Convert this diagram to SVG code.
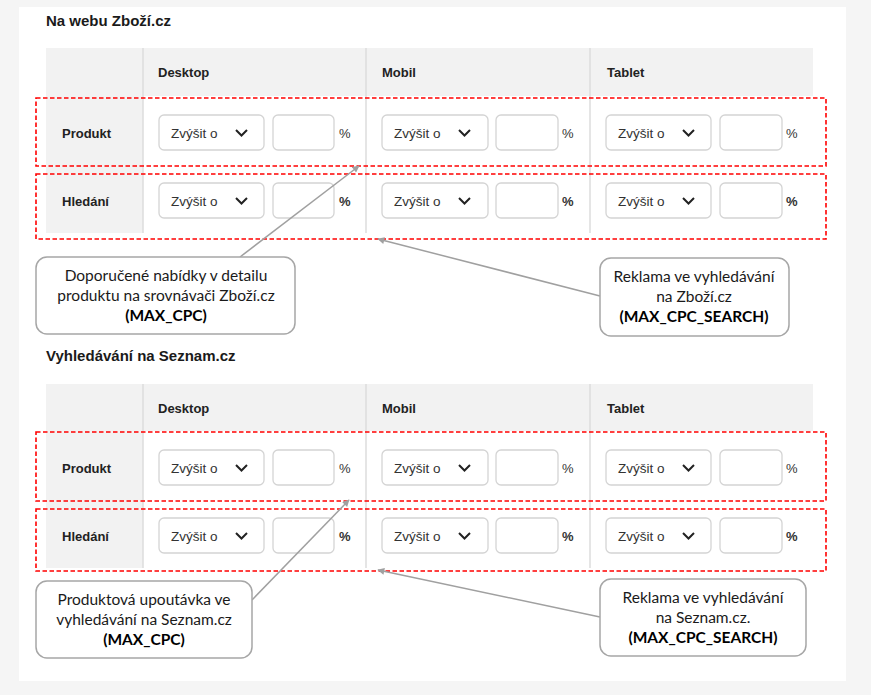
<svg xmlns="http://www.w3.org/2000/svg" width="871" height="695" viewBox="0 0 871 695">
<style>
.title{font-family:"Liberation Sans",Arial,sans-serif;font-size:15px;font-weight:bold;fill:#1a1a1a}
.hd{font-family:"Liberation Sans",Arial,sans-serif;font-size:13px;font-weight:bold;fill:#222}
.dd{fill:#fff;stroke:#d4d4d4;stroke-width:1.3}
.ddt{font-family:"Liberation Sans",Arial,sans-serif;font-size:13.5px;fill:#333}
.chev{fill:none;stroke:#222;stroke-width:2}
.pct{font-family:"Liberation Sans",Arial,sans-serif;font-size:13px;fill:#333}
.pctb{font-family:"Liberation Sans",Arial,sans-serif;font-size:13px;font-weight:bold;fill:#333}
.band{fill:#f2f2f2}
.div{stroke:#dcdcdc;stroke-width:1.5}
.hl{fill:none;stroke:#ff0000;stroke-width:1.6;stroke-dasharray:4.5 2.5}
.co{fill:#fff;stroke:#a6a6a6;stroke-width:1.5}
.cot{font-family:Lato,"Open Sans",sans-serif;font-size:15.5px;fill:#1a1a1a;text-anchor:middle}
.cob{font-family:Lato,"Open Sans",sans-serif;font-size:15.5px;font-weight:bold;fill:#000;text-anchor:middle}
.con{stroke:#a0a0a0;stroke-width:1.5;fill:none}
</style>
<defs>
<marker id="ah" viewBox="0 0 10 10" refX="9" refY="5" markerWidth="8" markerHeight="7" orient="auto" markerUnits="userSpaceOnUse">
<path d="M0,0 L10,5 L0,10 z" fill="#a0a0a0"/>
</marker>
</defs>
<rect x="0" y="0" width="871" height="695" fill="#f5f5f5"/>
<rect x="19" y="7" width="827" height="674" fill="#fff"/>

<g id="title1"><text class="title" x="46" y="26">Na webu Zboží.cz</text></g>

<g id="table1">
<rect class="band" x="46" y="48" width="767" height="48"/>
<rect class="band" x="46" y="48" width="97" height="185"/>
<line class="div" x1="143" y1="48" x2="143" y2="233"/>
<line class="div" x1="366" y1="48" x2="366" y2="233"/>
<line class="div" x1="590" y1="48" x2="590" y2="233"/>
<text class="hd" x="158" y="77">Desktop</text>
<text class="hd" x="382" y="77">Mobil</text>
<text class="hd" x="607" y="77">Tablet</text>
<text class="hd" x="62" y="138">Produkt</text>
<text class="hd" x="62" y="206">Hledání</text>
<!-- row 1 -->
<rect class="dd" x="159" y="115" width="105" height="35" rx="5"/><text class="ddt" x="171" y="138">Zvýšit o</text><polyline class="chev" points="236,130 241.5,135.5 247,130"/>
<rect class="dd" x="273" y="115" width="61" height="35" rx="5"/><text class="pct" x="339" y="138">%</text>
<rect class="dd" x="382" y="115" width="106" height="35" rx="5"/><text class="ddt" x="394" y="138">Zvýšit o</text><polyline class="chev" points="459,130 464.5,135.5 470,130"/>
<rect class="dd" x="496" y="115" width="62" height="35" rx="5"/><text class="pct" x="562" y="138">%</text>
<rect class="dd" x="606" y="115" width="105" height="35" rx="5"/><text class="ddt" x="618" y="138">Zvýšit o</text><polyline class="chev" points="683,130 688.5,135.5 694,130"/>
<rect class="dd" x="720" y="115" width="62" height="35" rx="5"/><text class="pct" x="786" y="138">%</text>
<!-- row 2 -->
<rect class="dd" x="159" y="183" width="105" height="35" rx="5"/><text class="ddt" x="171" y="206">Zvýšit o</text><polyline class="chev" points="236,198 241.5,203.5 247,198"/>
<rect class="dd" x="273" y="183" width="61" height="35" rx="5"/><text class="pctb" x="339" y="206">%</text>
<rect class="dd" x="382" y="183" width="106" height="35" rx="5"/><text class="ddt" x="394" y="206">Zvýšit o</text><polyline class="chev" points="459,198 464.5,203.5 470,198"/>
<rect class="dd" x="496" y="183" width="62" height="35" rx="5"/><text class="pctb" x="562" y="206">%</text>
<rect class="dd" x="606" y="183" width="105" height="35" rx="5"/><text class="ddt" x="618" y="206">Zvýšit o</text><polyline class="chev" points="683,198 688.5,203.5 694,198"/>
<rect class="dd" x="720" y="183" width="62" height="35" rx="5"/><text class="pctb" x="786" y="206">%</text>
</g>
<g id="highlight1a"><rect class="hl" x="36" y="98" width="790" height="68"/></g>
<g id="highlight1b"><rect class="hl" x="36" y="174" width="790" height="65"/></g>

<g id="title2"><text class="title" x="46" y="361">Vyhledávání na Seznam.cz</text></g>

<g id="table2">
<rect class="band" x="46" y="384" width="767" height="47"/>
<rect class="band" x="46" y="384" width="97" height="184"/>
<line class="div" x1="143" y1="384" x2="143" y2="568"/>
<line class="div" x1="366" y1="384" x2="366" y2="568"/>
<line class="div" x1="590" y1="384" x2="590" y2="568"/>
<text class="hd" x="158" y="413">Desktop</text>
<text class="hd" x="382" y="413">Mobil</text>
<text class="hd" x="607" y="413">Tablet</text>
<text class="hd" x="62" y="473">Produkt</text>
<text class="hd" x="62" y="541">Hledání</text>
<!-- row 1 -->
<rect class="dd" x="159" y="450" width="105" height="35" rx="5"/><text class="ddt" x="171" y="473">Zvýšit o</text><polyline class="chev" points="236,465 241.5,470.5 247,465"/>
<rect class="dd" x="273" y="450" width="61" height="35" rx="5"/><text class="pct" x="339" y="473">%</text>
<rect class="dd" x="382" y="450" width="106" height="35" rx="5"/><text class="ddt" x="394" y="473">Zvýšit o</text><polyline class="chev" points="459,465 464.5,470.5 470,465"/>
<rect class="dd" x="496" y="450" width="62" height="35" rx="5"/><text class="pct" x="562" y="473">%</text>
<rect class="dd" x="606" y="450" width="105" height="35" rx="5"/><text class="ddt" x="618" y="473">Zvýšit o</text><polyline class="chev" points="683,465 688.5,470.5 694,465"/>
<rect class="dd" x="720" y="450" width="62" height="35" rx="5"/><text class="pct" x="786" y="473">%</text>
<!-- row 2 -->
<rect class="dd" x="159" y="518" width="105" height="35" rx="5"/><text class="ddt" x="171" y="541">Zvýšit o</text><polyline class="chev" points="236,533 241.5,538.5 247,533"/>
<rect class="dd" x="273" y="518" width="61" height="35" rx="5"/><text class="pctb" x="339" y="541">%</text>
<rect class="dd" x="382" y="518" width="106" height="35" rx="5"/><text class="ddt" x="394" y="541">Zvýšit o</text><polyline class="chev" points="459,533 464.5,538.5 470,533"/>
<rect class="dd" x="496" y="518" width="62" height="35" rx="5"/><text class="pctb" x="562" y="541">%</text>
<rect class="dd" x="606" y="518" width="105" height="35" rx="5"/><text class="ddt" x="618" y="541">Zvýšit o</text><polyline class="chev" points="683,533 688.5,538.5 694,533"/>
<rect class="dd" x="720" y="518" width="62" height="35" rx="5"/><text class="pctb" x="786" y="541">%</text>
</g>
<g id="highlight2a"><rect class="hl" x="36" y="432" width="790" height="69"/></g>
<g id="highlight2b"><rect class="hl" x="36" y="509" width="790" height="62"/></g>

<g id="connectors">
<line class="con" x1="240" y1="257" x2="359" y2="166" marker-end="url(#ah)"/>
<line class="con" x1="600" y1="296" x2="378" y2="239" marker-end="url(#ah)"/>
<line class="con" x1="252" y1="600" x2="349" y2="500" marker-end="url(#ah)"/>
<line class="con" x1="600" y1="617" x2="378" y2="570" marker-end="url(#ah)"/>
</g>

<g id="callout1">
<rect class="co" x="36" y="257" width="259" height="77" rx="11"/>
<text class="cot" x="166" y="281">Doporučené nabídky v detailu</text>
<text class="cot" x="166" y="301">produktu na srovnávači Zboží.cz</text>
<text class="cob" x="166" y="321">(MAX_CPC)</text>
</g>
<g id="callout2">
<rect class="co" x="600" y="258" width="189" height="78" rx="11"/>
<text class="cot" x="694" y="282">Reklama ve vyhledávání</text>
<text class="cot" x="694" y="302">na Zboží.cz</text>
<text class="cob" x="694" y="322">(MAX_CPC_SEARCH)</text>
</g>
<g id="callout3">
<rect class="co" x="36" y="581" width="216" height="77" rx="11"/>
<text class="cot" x="144" y="605">Produktová upoutávka ve</text>
<text class="cot" x="144" y="625">vyhledávání na Seznam.cz</text>
<text class="cob" x="144" y="645">(MAX_CPC)</text>
</g>
<g id="callout4">
<rect class="co" x="600" y="579" width="206" height="77" rx="11"/>
<text class="cot" x="703" y="603">Reklama ve vyhledávání</text>
<text class="cot" x="703" y="623">na Seznam.cz.</text>
<text class="cob" x="703" y="643">(MAX_CPC_SEARCH)</text>
</g>
</svg>
